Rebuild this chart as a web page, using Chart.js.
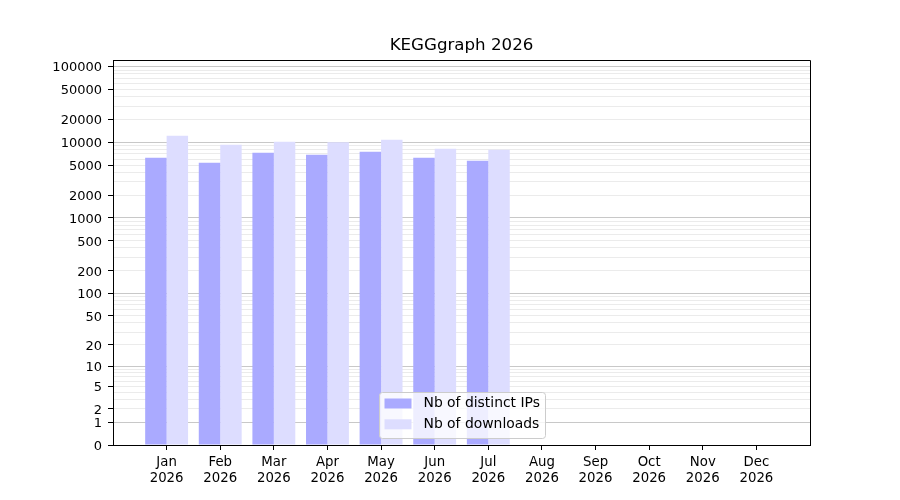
<!DOCTYPE html>
<html>
<head>
<meta charset="utf-8">
<script src="https://cdn.jsdelivr.net/npm/chart.js@4.4.1/dist/chart.umd.min.js"></script>
<style>
  html, body { margin: 0; padding: 0; background: #fff; }
  #wrap { width: 900px; height: 500px; }
</style>
</head>
<body>
<div id="wrap"><canvas id="c" width="900" height="500"></canvas></div>
<script>
// ---- data ----
const months = ['Jan','Feb','Mar','Apr','May','Jun','Jul','Aug','Sep','Oct','Nov','Dec'];
const year = '2026';
const distinctIPs = [6240, 5360, 7270, 6840, 7500, 6240, 5700, null, null, null, null, null];
const downloads   = [12190, 9270, 10160, 10000, 10790, 8210, 7960, null, null, null, null, null];
const yTickLabels = [0, 1, 2, 5, 10, 20, 50, 100, 200, 500, 1000, 2000, 5000, 10000, 20000, 50000, 100000];
const yMaxValue = 122000;
const chartTitle = 'KEGGgraph 2026';
const seriesNames = ['Nb of distinct IPs', 'Nb of downloads'];

// ---- helpers ----
const tf = v => (v === null || v === undefined) ? null : Math.log10(v + 1);
const inv = t => Math.round(Math.pow(10, t) - 1);

// grid values: 0 plus k*10^p
const gridValues = [0];
for (let p = 0; p <= 5; p++) {
  for (let k = 1; k <= 9; k++) {
    const v = k * Math.pow(10, p);
    if (v <= yMaxValue) gridValues.push(v);
  }
}
const labelSet = new Set(yTickLabels);
const isMajor = v => v >= 1 && Math.pow(10, Math.round(Math.log10(v))) === v;

const labels = ['', ...months.map(m => [m, year]), ''];
const padSeries = arr => [null, ...arr.map(tf), null];

const FONT = 'DejaVu Sans';

const framePlugin = {
  id: 'frame',
  afterDraw(chart) {
    const ca = chart.chartArea;
    const ctx = chart.ctx;
    ctx.save();
    // top/right spines
    ctx.strokeStyle = '#000';
    ctx.lineWidth = 1;
    ctx.beginPath();
    ctx.moveTo(Math.round(ca.left) + 0.5, Math.round(ca.top) + 0.5);
    ctx.lineTo(Math.round(ca.right) + 0.5, Math.round(ca.top) + 0.5);
    ctx.lineTo(Math.round(ca.right) + 0.5, Math.round(ca.bottom) + 0.5);
    ctx.stroke();

    // title centered over the plot area
    ctx.fillStyle = '#000';
    ctx.font = '16.67px "' + FONT + '"';
    ctx.textAlign = 'center';
    ctx.textBaseline = 'alphabetic';
    ctx.fillText(chartTitle, (ca.left + ca.right) / 2, 50);

    // legend inside plot, lower center
    const w = 166, h = 46;
    const x = (ca.left + ca.right) / 2 - w / 2;
    const y = ca.bottom - 7 - h;
    ctx.beginPath();
    if (ctx.roundRect) ctx.roundRect(Math.round(x) + 0.5, Math.round(y) + 0.5, w, h, 3);
    else ctx.rect(Math.round(x) + 0.5, Math.round(y) + 0.5, w, h);
    ctx.fillStyle = 'rgba(255,255,255,0.8)';
    ctx.fill();
    ctx.strokeStyle = '#cccccc';
    ctx.stroke();
    const rowsY = [y + 11.5, y + 32.3];
    chart.data.datasets.forEach((ds, i) => {
      ctx.fillStyle = ds.backgroundColor;
      ctx.fillRect(x + 6, rowsY[i] - 5, 27, 10);
      ctx.fillStyle = '#000';
      ctx.font = '13.9px "' + FONT + '"';
      ctx.textBaseline = 'middle';
      ctx.textAlign = 'left';
      ctx.fillText(ds.label, x + 45, rowsY[i]);
    });
    ctx.restore();
  }
};

new Chart(document.getElementById('c'), {
  type: 'bar',
  data: {
    labels: labels,
    datasets: [
      { label: seriesNames[0], data: padSeries(distinctIPs), backgroundColor: '#aaaaff', borderWidth: 0,
        categoryPercentage: 0.8, barPercentage: 1.0 },
      { label: seriesNames[1], data: padSeries(downloads), backgroundColor: '#ddddff', borderWidth: 0,
        categoryPercentage: 0.8, barPercentage: 1.0 }
    ]
  },
  options: {
    responsive: false,
    animation: false,
    devicePixelRatio: 1,
    layout: { padding: { left: 0, right: 90, top: 60, bottom: 0 } },
    plugins: {
      legend: { display: false },
      tooltip: { enabled: false },
      title: { display: false }
    },
    scales: {
      x: {
        type: 'category',
        offset: false,
        z: 1,
        afterFit(scale) { scale.height = 55; },
        grid: {
          offset: false,
          drawOnChartArea: false,
          drawTicks: true,
          tickLength: 5,
          tickWidth: 1,
          tickColor: ctx => (ctx.index === 0 || ctx.index === labels.length - 1) ? 'rgba(0,0,0,0)' : '#000'
        },
        border: { display: true, color: '#000', width: 1 },
        ticks: {
          autoSkip: false,
          maxRotation: 0,
          minRotation: 0,
          color: '#000',
          padding: 5,
          font: { family: FONT, size: 13.3 }
        }
      },
      y: {
        type: 'linear',
        min: 0,
        max: tf(yMaxValue),
        z: 1,
        afterFit(scale) { scale.width = 113; },
        afterBuildTicks(scale) {
          scale.ticks = gridValues.map(v => ({ value: tf(v) }));
        },
        grid: {
          drawTicks: true,
          tickLength: 5,
          tickWidth: 1,
          lineWidth: 1,
          color: ctx => {
            const v = inv(ctx.tick.value);
            if (v === 0) return 'rgba(0,0,0,0)';
            return isMajor(v) ? 'rgba(176,176,176,0.7)' : 'rgba(176,176,176,0.25)';
          },
          tickColor: ctx => labelSet.has(inv(ctx.tick.value)) ? '#000' : 'rgba(0,0,0,0)'
        },
        border: { display: true, color: '#000', width: 1 },
        ticks: {
          autoSkip: false,
          color: '#000',
          padding: 6,
          labelOffset: 1.5,
          font: { family: FONT, size: 13 },
          callback: (value) => {
            const v = inv(value);
            return labelSet.has(v) ? String(v) : '';
          }
        }
      }
    }
  },
  plugins: [framePlugin]
});
</script>
</body>
</html>
